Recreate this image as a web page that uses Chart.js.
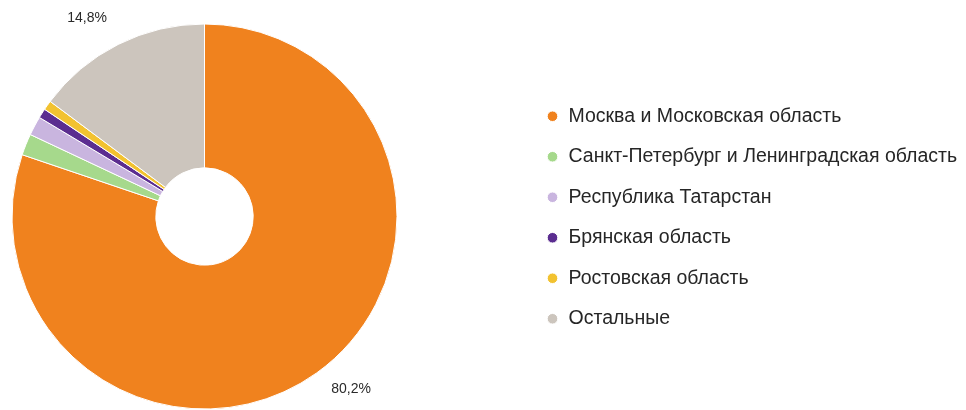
<!DOCTYPE html>
<html>
<head>
<meta charset="utf-8">
<script src="https://cdn.jsdelivr.net/npm/chart.js@4"></script>
<style>
html,body{margin:0;padding:0;background:#fff;}
#wrap{width:966px;height:410px;position:relative;}
</style>
</head>
<body>
<div id="wrap"><canvas id="c"></canvas></div>
<script>
const regions = [
  'Москва и Московская область',
  'Санкт-Петербург и Ленинградская область',
  'Республика Татарстан',
  'Брянская область',
  'Ростовская область',
  'Остальные'
];
const shares = [80.2, 1.8, 1.6, 0.8, 0.8, 14.8];
const sliceColors = ['#F0821E', '#A6D98C', '#C9B5DF', '#5B2D90', '#F2C230', '#CCC5BD'];
const labelThreshold = 5;

const FONT = '"Liberation Sans", Arial, sans-serif';

const pctLabels = {
  id: 'pctLabels',
  afterDatasetsDraw(chart) {
    const ctx = chart.ctx;
    const meta = chart.getDatasetMeta(0);
    ctx.save();
    ctx.font = '14px ' + FONT;
    ctx.fillStyle = '#2a2a2a';
    ctx.textBaseline = 'middle';
    meta.data.forEach((arc, i) => {
      const v = shares[i];
      if (v < labelThreshold) return;
      const p = arc.getProps(['x', 'y', 'startAngle', 'endAngle', 'outerRadius'], true);
      const mid = (p.startAngle + p.endAngle) / 2;
      const r = p.outerRadius + 25;
      const px = p.x + Math.cos(mid) * r;
      const py = p.y + Math.sin(mid) * r - 4;
      ctx.textAlign = Math.cos(mid) >= 0 ? 'left' : 'right';
      ctx.fillText(v.toFixed(1).replace('.', ',') + '%', px, py);
    });
    ctx.restore();
  }
};

const placeBoxes = {
  id: 'placeBoxes',
  afterLayout(chart) {
    chart.chartArea = {left: 11.5, top: 23.5, right: 397.5, bottom: 409.5, width: 386, height: 386};
    const lg = chart.legend;
    if (lg) {
      lg.left = 525.25;
      lg.right = 966;
      lg.top = 12;
      lg.bottom = 423;
    }
  }
};

new Chart(document.getElementById('c'), {
  type: 'doughnut',
  data: {
    labels: regions,
    datasets: [{
      data: shares,
      backgroundColor: sliceColors,
      borderColor: '#ffffff',
      borderWidth: 1,
      hoverOffset: 0
    }]
  },
  options: {
    responsive: true,
    maintainAspectRatio: false,
    animation: false,
    radius: 192.5,
    cutout: 48.7,
    layout: {padding: 0},
    plugins: {
      tooltip: {enabled: false},
      legend: {
        display: true,
        position: 'right',
        align: 'center',
        labels: {
          usePointStyle: true,
          pointStyle: 'circle',
          boxWidth: 12.5,
          boxHeight: 7.5,
          padding: 21,
          color: '#262626',
          font: {size: 19.5, family: FONT}
        }
      }
    }
  },
  plugins: [pctLabels, placeBoxes]
});
</script>
</body>
</html>
